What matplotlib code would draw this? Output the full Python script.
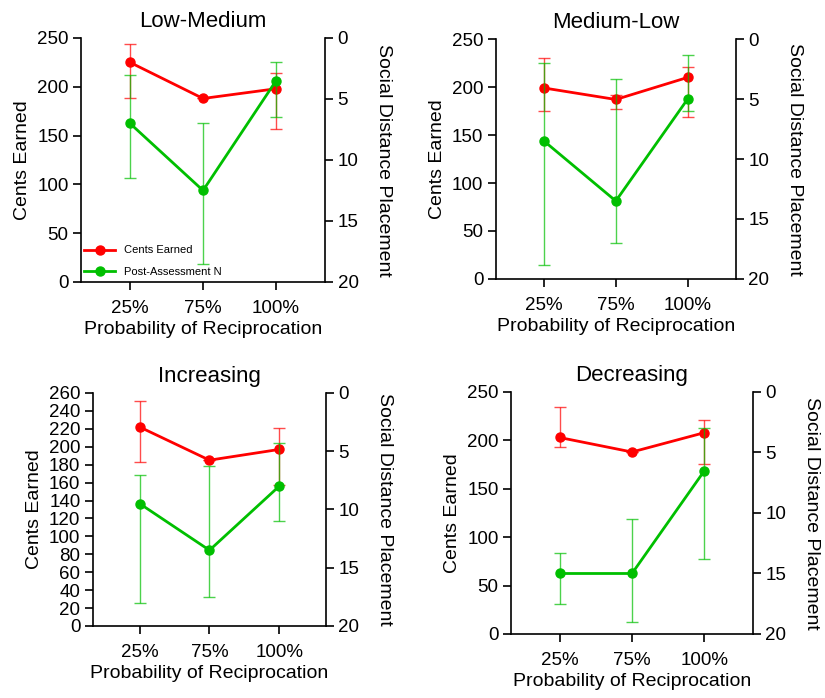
import numpy as np
import matplotlib
matplotlib.use("Agg")
import matplotlib.pyplot as plt

plt.rcParams['font.family'] = ['Liberation Sans', 'DejaVu Sans']

# Данные
x_labels = ['25%', '75%', '100%']
titles = ['Low-Medium', 'Medium-Low', 'Increasing', 'Decreasing']

# Cents Earned: среднее, нижняя и верхняя граница ошибки (абсолютные значения)
cents_mean = [[225, 188, 198], [199, 187, 210], [222, 185, 197], [203, 188, 208]]
cents_low = [[189, 188, 157], [175, 177, 169], [183, 185, 157], [193, 188, 176]]
cents_high = [[244, 188, 214], [230, 192, 221], [251, 185, 221], [235, 188, 221]]

# Social Distance Placement (правая ось, перевёрнута)
social_mean = [[7.0, 12.5, 3.5], [8.5, 13.5, 5.0], [9.5, 13.5, 8.0], [15.0, 15.0, 6.5]]
social_low = [[3.0, 7.0, 2.0], [2.0, 3.3, 1.3], [7.0, 6.3, 4.3], [13.3, 10.5, 3.0]]
social_high = [[11.5, 18.5, 6.5], [18.8, 17.0, 6.0], [18.0, 17.5, 11.0], [17.5, 19.0, 13.8]]

left_ylim = [250, 250, 260, 250]
left_ticks = [50, 50, 20, 50]

# положение осей в долях фигуры
positions = [
    [0.0982, 0.596, 0.2958, 0.3496],
    [0.601, 0.6003, 0.2909, 0.3438],
    [0.1127, 0.1032, 0.2824, 0.3338],
    [0.6194, 0.0917, 0.2933, 0.3467],
]

red = '#ff0000'
green = '#00bf00'

fig = plt.figure(figsize=(8.25, 6.98), dpi=100)
xs = np.arange(3)

for i in range(4):
    ax = fig.add_axes(positions[i])
    ax2 = ax.twinx()

    m = np.array(cents_mean[i])
    err = [m - np.array(cents_low[i]), np.array(cents_high[i]) - m]
    ax.errorbar(xs, m, yerr=err, fmt='none', ecolor=red, elinewidth=1,
                capsize=4.3, capthick=1, alpha=0.7, zorder=2)
    ln1, = ax.plot(xs, m, '-o', color=red, lw=2, ms=6.5, zorder=3,
                   label='Cents Earned')

    s = np.array(social_mean[i])
    err2 = [s - np.array(social_low[i]), np.array(social_high[i]) - s]
    ax2.errorbar(xs, s, yerr=err2, fmt='none', ecolor=green, elinewidth=1,
                 capsize=4.3, capthick=1, alpha=0.7, zorder=2)
    ln2, = ax2.plot(xs, s, '-o', color=green, lw=2, ms=6.5, zorder=3,
                    label='Post-Assessment N')

    ax.set_xlim(-0.67, 2.67)
    ax.set_ylim(0, left_ylim[i])
    ax.set_yticks(np.arange(0, left_ylim[i] + 1, left_ticks[i]))
    ax2.set_ylim(20, 0)
    ax2.set_yticks([0, 5, 10, 15, 20])
    ax.set_xticks(xs)
    ax.set_xticklabels(x_labels)

    for a in (ax, ax2):
        a.spines['top'].set_visible(False)
        for sp in a.spines.values():
            sp.set_linewidth(1.2)
        a.tick_params(direction='out', length=6, width=1.2, labelsize=13.5, pad=3)
    ax.spines['right'].set_visible(False)
    ax2.spines['left'].set_visible(False)
    ax2.spines['bottom'].set_visible(False)
    ax.tick_params(axis='x', pad=7)

    ax.set_xlabel('Probability of Reciprocation', fontsize=14, labelpad=3)
    ax.set_ylabel('Cents Earned', fontsize=14, labelpad=4)
    ax2.set_ylabel('Social Distance Placement', fontsize=14, rotation=270,
                   va='bottom', labelpad=12)
    ax.set_title(titles[i], fontsize=16, pad=8)

    if i == 0:
        leg = ax.legend([ln1, ln2], ['Cents Earned', 'Post-Assessment N'],
                        loc='lower left', frameon=False, fontsize=8,
                        handlelength=2.8, labelspacing=1.0, borderaxespad=0.2,
                        bbox_to_anchor=(-0.015, -0.005))

fig.savefig('out.png', dpi=100)
